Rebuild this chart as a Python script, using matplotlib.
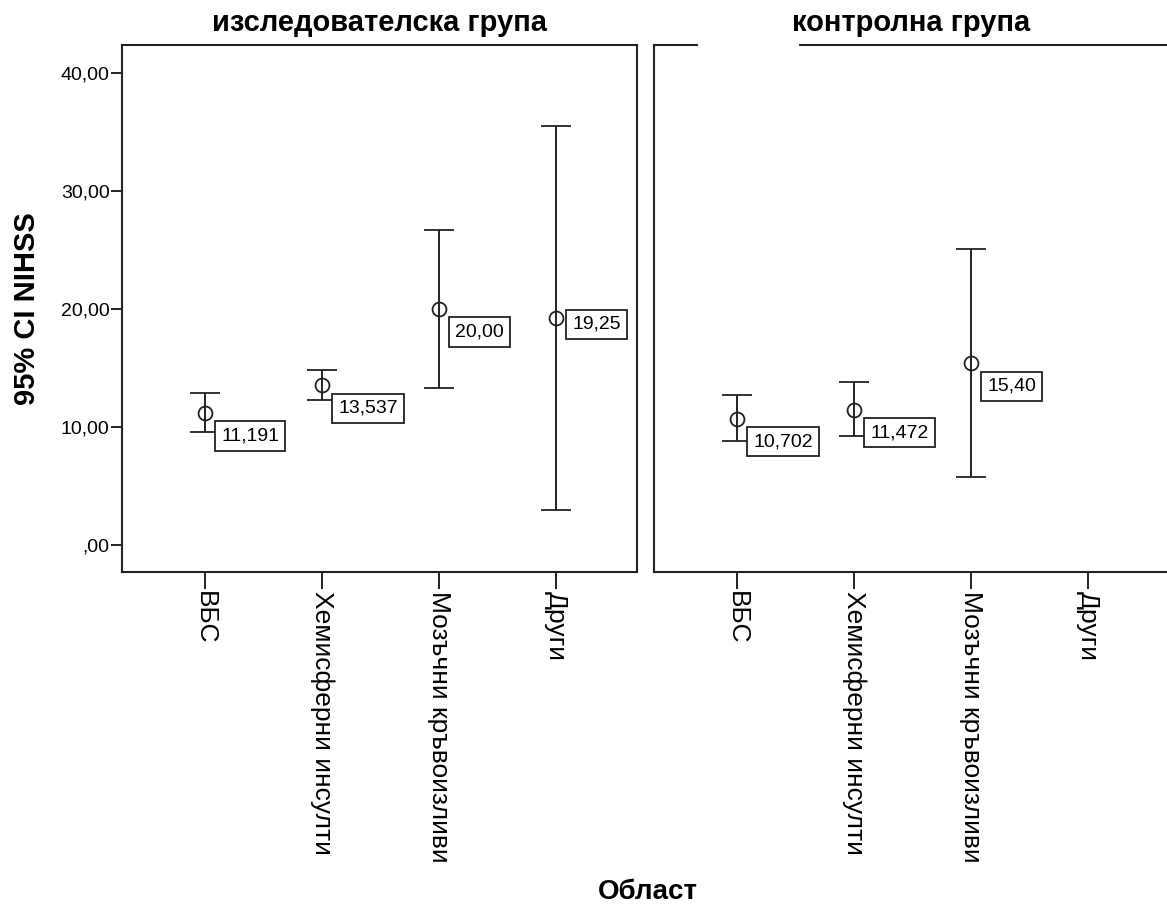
import matplotlib.pyplot as plt

plt.rcParams['font.family'] = ['Liberation Sans', 'DejaVu Sans']

# categories (x axis) and panel titles
categories = ['ВБС', 'Хемисферни инсулти', 'Мозъчни кръвоизливи', 'Други']
panel_titles = ['изследователска група', 'контролна група']

# research group: mean and 95% CI
res_mean = [11.191, 13.537, 20.00, 19.25]
res_low = [9.6, 12.3, 13.3, 3.0]
res_high = [12.85, 14.85, 26.7, 35.5]
res_labels = ['11,191', '13,537', '20,00', '19,25']

# control group: no data for "Други"
ctl_mean = [10.702, 11.472, 15.40]
ctl_low = [8.8, 9.2, 5.8]
ctl_high = [12.75, 13.8, 25.05]
ctl_labels = ['10,702', '11,472', '15,40']

yticks = [0, 10, 20, 30, 40]
ytick_labels = [',00', '10,00', '20,00', '30,00', '40,00']

dark = '#222222'
W, H = 1167, 905

fig = plt.figure(figsize=(W / 100, H / 100), dpi=100)
ax1 = fig.add_axes([122 / W, 1 - 572 / H, 515 / W, 527 / H])
ax2 = fig.add_axes([654 / W, 1 - 572 / H, 515 / W, 527 / H])

groups = [
    (ax1, res_mean, res_low, res_high, res_labels, [0, 0, 0, 12]),
    (ax2, ctl_mean, ctl_low, ctl_high, ctl_labels, [0, 0, 0]),
]

for i, (ax, mean, low, high, labels, dy) in enumerate(groups):
    x = list(range(len(mean)))
    err = [[m - l for m, l in zip(mean, low)], [h - m for m, h in zip(mean, high)]]
    ax.errorbar(x, mean, yerr=err, fmt='o', mfc='none', mec=dark, mew=1.3, ms=10,
                ecolor=dark, elinewidth=1.4, capsize=10.5, capthick=1.4)
    for xi, m, lab, d in zip(x, mean, labels, dy):
        ax.annotate(lab, (xi, m), xytext=(11.5, -10.5 + d), textcoords='offset points',
                    ha='left', va='top', fontsize=14,
                    bbox=dict(boxstyle='square,pad=0.32', fc='white', ec=dark, lw=1.3))

    ax.set_xlim(-0.71, 3.69)
    ax.set_ylim(-2.29, 42.37)
    ax.set_xticks(range(len(categories)))
    ax.set_xticklabels(categories, rotation=-90, va='top', ha='center', fontsize=19)
    ax.tick_params(axis='x', length=12, width=1.4, color=dark, pad=2)
    for s in ax.spines.values():
        s.set_color(dark)
        s.set_linewidth(1.5)
    ax.set_title(panel_titles[i], fontsize=21, fontweight='bold', pad=10)

ax1.set_yticks(yticks)
ax1.set_yticklabels(ytick_labels, fontsize=14)
ax1.tick_params(axis='y', length=8, width=1.4, color=dark, pad=1)
ax1.set_ylabel('95% CI NIHSS', fontsize=21, fontweight='bold', labelpad=14)

ax2.set_yticks([])

# the reference has a gap in the top border of the right panel
ax2.plot([0.089, 0.278], [1, 1], transform=ax2.transAxes, color='white', lw=3,
         clip_on=False, zorder=5)

fig.text(648 / W, 1 - 892 / H, 'Област', ha='center', va='center',
         fontsize=20, fontweight='bold')

plt.savefig('out.png', dpi=100)
